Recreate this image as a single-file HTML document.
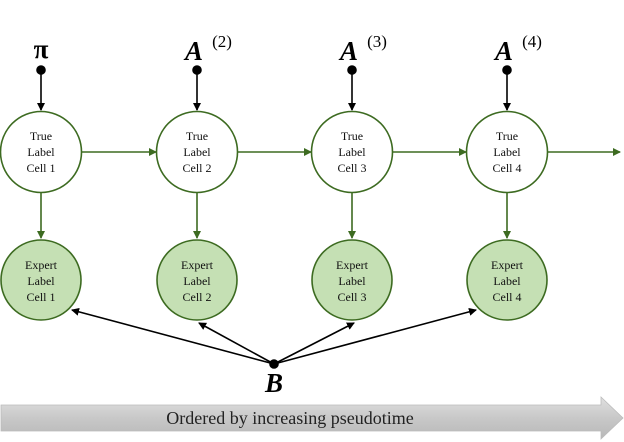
<!DOCTYPE html>
<html><head><style>body{margin:0;background:#fff}svg{display:block}</style></head><body>
<svg width="624" height="442" viewBox="0 0 624 442" xmlns="http://www.w3.org/2000/svg" font-family="Liberation Serif, serif">
<defs>
<marker id="g" markerWidth="8" markerHeight="8" refX="7" refY="4" orient="auto" markerUnits="userSpaceOnUse"><path d="M0,0 L8,4 L0,8 z" fill="#3d6b21"/></marker>
<marker id="k" markerWidth="8" markerHeight="8" refX="7" refY="4" orient="auto" markerUnits="userSpaceOnUse"><path d="M0,0 L8,4 L0,8 z" fill="#000"/></marker>
<linearGradient id="gr" x1="0" y1="0" x2="0" y2="1"><stop offset="0" stop-color="#e0e0e0"/><stop offset="0.5" stop-color="#c8c8c8"/><stop offset="1" stop-color="#b8b8b8"/></linearGradient>
</defs>
<g font-weight="bold" font-style="italic" font-size="27" text-anchor="middle">
<text x="41" y="58" font-style="normal">π</text>
<text x="194" y="60">A</text><text x="222" y="47" font-size="17" font-weight="normal" font-style="normal">(2)</text>
<text x="349" y="60">A</text><text x="377" y="47" font-size="17" font-weight="normal" font-style="normal">(3)</text>
<text x="504" y="60">A</text><text x="532" y="47" font-size="17" font-weight="normal" font-style="normal">(4)</text>
<text x="274" y="392">B</text>
</g>
<g stroke="#000" stroke-width="1.6" fill="#000">
<circle cx="41" cy="70" r="4"/><circle cx="197" cy="70" r="4"/><circle cx="352" cy="70" r="4"/><circle cx="507" cy="70" r="4"/>
<circle cx="274" cy="364" r="4"/>
<line x1="41" y1="70" x2="41" y2="110" marker-end="url(#k)"/>
<line x1="197" y1="70" x2="197" y2="110" marker-end="url(#k)"/>
<line x1="352" y1="70" x2="352" y2="110" marker-end="url(#k)"/>
<line x1="507" y1="70" x2="507" y2="110" marker-end="url(#k)"/>
<line x1="274" y1="364" x2="72" y2="310" marker-end="url(#k)"/>
<line x1="274" y1="364" x2="199" y2="323" marker-end="url(#k)"/>
<line x1="274" y1="364" x2="354" y2="323" marker-end="url(#k)"/>
<line x1="274" y1="364" x2="476" y2="310" marker-end="url(#k)"/>
</g>
<g stroke="#3d6b21" stroke-width="1.6">
<line x1="82" y1="152" x2="156" y2="152" marker-end="url(#g)"/>
<line x1="238" y1="152" x2="311" y2="152" marker-end="url(#g)"/>
<line x1="393" y1="152" x2="466" y2="152" marker-end="url(#g)"/>
<line x1="548" y1="152" x2="620" y2="152" marker-end="url(#g)"/>
<line x1="41" y1="193" x2="41" y2="238" marker-end="url(#g)"/>
<line x1="197" y1="193" x2="197" y2="238" marker-end="url(#g)"/>
<line x1="352" y1="193" x2="352" y2="238" marker-end="url(#g)"/>
<line x1="507" y1="193" x2="507" y2="238" marker-end="url(#g)"/>
<circle cx="41" cy="152" r="40.5" fill="#fff"/><circle cx="197" cy="152" r="40.5" fill="#fff"/><circle cx="352" cy="152" r="40.5" fill="#fff"/><circle cx="507" cy="152" r="40.5" fill="#fff"/>
<ellipse cx="41" cy="280" rx="40" ry="40" fill="#c5e0b4"/><ellipse cx="197" cy="280" rx="40" ry="40" fill="#c5e0b4"/><ellipse cx="352" cy="280" rx="40" ry="40" fill="#c5e0b4"/><ellipse cx="507" cy="280" rx="40" ry="40" fill="#c5e0b4"/>
</g>
<g font-size="12" text-anchor="middle" fill="#111">
<text x="41" y="140">True</text><text x="41" y="156">Label</text><text x="41" y="172">Cell 1</text>
<text x="197" y="140">True</text><text x="197" y="156">Label</text><text x="197" y="172">Cell 2</text>
<text x="352" y="140">True</text><text x="352" y="156">Label</text><text x="352" y="172">Cell 3</text>
<text x="507" y="140">True</text><text x="507" y="156">Label</text><text x="507" y="172">Cell 4</text>
<text x="41" y="269">Expert</text><text x="41" y="285">Label</text><text x="41" y="301">Cell 1</text>
<text x="197" y="269">Expert</text><text x="197" y="285">Label</text><text x="197" y="301">Cell 2</text>
<text x="352" y="269">Expert</text><text x="352" y="285">Label</text><text x="352" y="301">Cell 3</text>
<text x="507" y="269">Expert</text><text x="507" y="285">Label</text><text x="507" y="301">Cell 4</text>
</g>
<path d="M1,405 L601,405 L601,397 L623,418 L601,439 L601,431 L1,431 z" fill="url(#gr)" stroke="#bbb" stroke-width="0.8"/>
<text x="290" y="424" font-size="18" text-anchor="middle" fill="#222">Ordered by increasing pseudotime</text>
</svg>
</body></html>
